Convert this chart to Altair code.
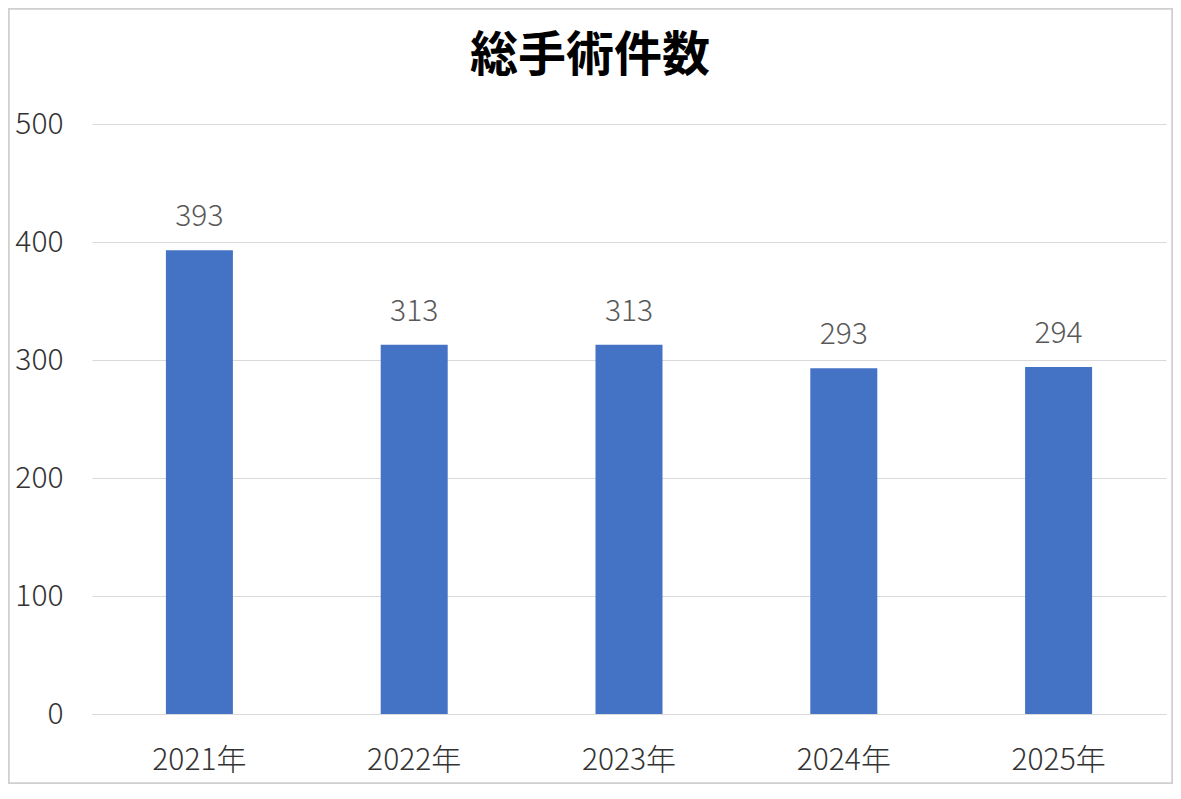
import altair as alt
import pandas as pd

years = ["2021年", "2022年", "2023年", "2024年", "2025年"]
counts = [393, 313, 313, 293, 294]

df = pd.DataFrame({"year": years, "count": counts})

FONT = "Noto Sans CJK JP"

base = alt.Chart(df)

x = alt.X("year:N", sort=years, title=None,
          scale=alt.Scale(paddingInner=0, paddingOuter=0),
          axis=alt.Axis(labelAngle=0, ticks=False, domain=True, domainColor="#d9d9d9",
                        domainWidth=1, labelFontSize=30, labelColor="#333333",
                        labelFont=FONT, labelFontWeight=300, labelPadding=31))
y = alt.Y("count:Q", title=None,
          scale=alt.Scale(domain=[0, 500]),
          axis=alt.Axis(values=[0, 100, 200, 300, 400, 500], ticks=False, domain=False,
                        gridColor="#d9d9d9", gridWidth=1, labelFontSize=30,
                        labelColor="#333333", labelFont=FONT, labelFontWeight=300,
                        labelPadding=29))

bars = base.mark_bar(size=67, color="#4472C4").encode(x=x, y=y)

labels = base.mark_text(dy=-24, baseline="alphabetic", fontSize=30, font=FONT,
                        fontWeight=300, color="#595959").encode(
    x=alt.X("year:N", sort=years), y="count:Q", text="count:Q")

border = base.mark_rect(filled=False, stroke="#d0d0d0", strokeWidth=1.5, clip=False).encode(
    x=alt.value(-83.5), x2=alt.value(1080.5), y=alt.value(-115.5), y2=alt.value(659.5))

chart = alt.layer(border, bars, labels).properties(
    width=1074, height=590,
    autosize=alt.AutoSizeParams(type="none"),
    padding={"left": 84, "top": 116, "right": 7, "bottom": 70},
    background="white",
    title=alt.TitleParams("総手術件数", fontSize=48, fontWeight="bold", font=FONT,
                          color="#000000", anchor="middle", frame="group",
                          offset=-73, dx=-39),
).configure_view(stroke=None)

chart.save("out.html", embed_options={"renderer": "svg", "actions": False})
